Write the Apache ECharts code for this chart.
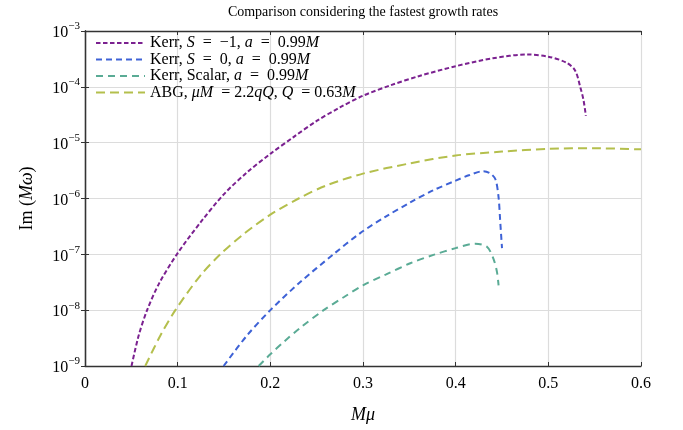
<!DOCTYPE html>
<html><head><meta charset="utf-8">
<script src="https://cdn.jsdelivr.net/npm/echarts@6/dist/echarts.min.js"></script>
<style>html,body{margin:0;padding:0;background:#fff}#c{width:683px;height:430px}</style>
</head><body><div id="c"></div>
<script>
// Kerr, S = -1, a = 0.99M
const kerrSm1X = [0.0502, 0.058, 0.067, 0.08, 0.1, 0.125, 0.15, 0.175, 0.2, 0.225, 0.25, 0.275, 0.3, 0.33, 0.36, 0.4, 0.44, 0.477, 0.5, 0.52, 0.529, 0.5344, 0.538, 0.5405];
const kerrSm1Y = [1.0e-9, 3.55e-9, 1.0e-8, 3.02e-8, 1.05e-7, 3.8e-7, 1.2e-6, 2.95e-6, 6.31e-6, 1.26e-5, 2.45e-5, 4.27e-5, 6.92e-5, 1.07e-4, 1.55e-4, 2.34e-4, 3.24e-4, 3.8e-4, 3.47e-4, 2.69e-4, 1.95e-4, 1.0e-4, 5.75e-5, 3.02e-5];
// Kerr, S = 0, a = 0.99M
const kerrS0X = [0.1496, 0.175, 0.2, 0.232, 0.268, 0.297, 0.325, 0.351, 0.375, 0.4, 0.415, 0.43, 0.4374, 0.443, 0.4463, 0.448, 0.45];
const kerrS0Y = [1.0e-9, 3.55e-9, 1.0e-8, 3.16e-8, 1.0e-7, 2.4e-7, 4.79e-7, 8.51e-7, 1.38e-6, 2.09e-6, 2.63e-6, 3.09e-6, 2.82e-6, 2.19e-6, 1.05e-6, 4.07e-7, 1.29e-7];
// Kerr, Scalar, a = 0.99M
const kerrScX = [0.1874, 0.2, 0.215, 0.232, 0.2575, 0.28, 0.3, 0.325, 0.351, 0.376, 0.4, 0.4212, 0.434, 0.441, 0.4446, 0.4463];
const kerrScY = [1.0e-9, 1.62e-9, 2.75e-9, 4.79e-9, 1.0e-8, 1.74e-8, 2.79e-8, 4.37e-8, 6.92e-8, 9.77e-8, 1.29e-7, 1.55e-7, 1.35e-7, 8.13e-8, 4.79e-8, 2.79e-8];
// ABG, muM = 2.2qQ, Q = 0.63M
const abgX = [0.065, 0.0815, 0.0975, 0.1245, 0.146, 0.171, 0.2, 0.2305, 0.26, 0.3, 0.351, 0.4, 0.45, 0.5, 0.55, 0.6];
const abgY = [1.0e-9, 3.55e-9, 1.0e-8, 4.17e-8, 1.0e-7, 2.29e-7, 5.13e-7, 1.0e-6, 1.7e-6, 2.79e-6, 4.27e-6, 5.89e-6, 6.92e-6, 7.76e-6, 7.94e-6, 7.59e-6];

const seriesNames = ['kerrSm1', 'kerrS0', 'kerrSc', 'abg'];
const legendLabels = {
  kerrSm1: '{r|Kerr, }{i|S}{r|  =  −1, }{i|a}{r|  =  0.99}{i|M}',
  kerrS0: '{r|Kerr, }{i|S}{r|  =  0, }{i|a}{r|  =  0.99}{i|M}',
  kerrSc: '{r|Kerr, Scalar, }{i|a}{r|  =  0.99}{i|M}',
  abg: '{r|ABG, }{i|μM}{r|  = 2.2}{i|qQ}{r|, }{i|Q}{r|  = 0.63}{i|M}'
};
const xTicks = [0, 0.1, 0.2, 0.3, 0.4, 0.5, 0.6];
const titleText = 'Comparison considering the fastest growth rates';

const F = 'Liberation Serif';
const colors = ['#7b2190', '#3e62d6', '#5aab95', '#b4bf4c'];
const dashes = [[4.5, 2.5], [6, 4], [7, 5], [9, 5]];
const xs = [kerrSm1X, kerrS0X, kerrScX, abgX];
const ys = [kerrSm1Y, kerrS0Y, kerrScY, abgY];

const supLabel = v => {
  const n = Math.round(Math.log10(v));
  return '{b|10}{s|' + (n < 0 ? '−' + (-n) : n) + '}';
};
const supRich = {
  b: { fontFamily: F, fontSize: 16, lineHeight: 20, color: '#000', verticalAlign: 'bottom' },
  s: { fontFamily: F, fontSize: 11, lineHeight: 11, color: '#000', verticalAlign: 'top' }
};

const axisCommon = {
  axisLine: { show: true, lineStyle: { color: '#333', width: 1.3 } },
  axisTick: { show: true, inside: true, length: 4, lineStyle: { color: '#333', width: 1 } }
};

const chart = echarts.init(document.getElementById('c'), null, { renderer: 'canvas' });
chart.setOption({
  animation: false,
  backgroundColor: '#fff',
  grid: { left: 85, right: 42, top: 22.5, bottom: 64, containLabel: false },
  legend: {
    data: seriesNames,
    orient: 'vertical',
    left: 90, top: 30,
    itemWidth: 49, itemHeight: 16, itemGap: 0.5,
    itemStyle: { opacity: 0 },
    formatter: n => legendLabels[n],
    textStyle: {
      fontFamily: F, fontSize: 16, color: '#000', lineHeight: 16,
      rich: {
        r: { fontFamily: F, fontSize: 16, color: '#000' },
        i: { fontFamily: F, fontSize: 16, fontStyle: 'italic', color: '#000' }
      }
    }
  },
  xAxis: [{
    type: 'value', min: 0, max: 0.6, interval: 0.1, position: 'bottom',
    ...axisCommon,
    axisLabel: { fontFamily: F, fontSize: 16, color: '#000', margin: 10,
      formatter: v => { const t = xTicks.find(q => Math.abs(q - v) < 1e-9); return t === 0 ? '0' : (t !== undefined ? t.toFixed(1) : ''); } },
    splitLine: { show: true, lineStyle: { color: '#dcdcdc', width: 1.2 } },
    name: 'Mμ', nameLocation: 'middle', nameGap: 40,
    nameTextStyle: { fontFamily: F, fontSize: 18, fontStyle: 'italic', color: '#000' }
  }, {
    type: 'value', min: 0, max: 0.6, interval: 0.1, position: 'top',
    ...axisCommon,
    axisLabel: { show: false }, splitLine: { show: false },
    name: titleText, nameLocation: 'middle', nameGap: 12,
    nameTextStyle: { fontFamily: F, fontSize: 14, color: '#000' }
  }],
  yAxis: [{
    type: 'log', logBase: 10, min: 1e-9, max: 1e-3, position: 'left',
    ...axisCommon,
    axisLabel: { formatter: supLabel, rich: supRich, margin: 5 },
    splitLine: { show: true, lineStyle: { color: '#dcdcdc', width: 1.2 } },
    minorTick: { show: false },
    name: '{r|Im (}{i|Mω}{r|)}', nameLocation: 'middle', nameGap: 49,
    nameTextStyle: {
      rich: {
        r: { fontFamily: F, fontSize: 18, color: '#000' },
        i: { fontFamily: F, fontSize: 18, fontStyle: 'italic', color: '#000' }
      }
    }
  }, {
    type: 'log', logBase: 10, min: 1e-9, max: 1e-3, position: 'right',
    ...axisCommon,
    axisLabel: { show: false }, splitLine: { show: false }
  }],
  series: seriesNames.map((nm, k) => ({
    name: nm, type: 'line', xAxisIndex: 0, yAxisIndex: 0,
    data: xs[k].map((x, i) => [x, ys[k][i]]),
    showSymbol: false, symbol: 'none', smooth: 0.3,
    lineStyle: { color: colors[k], width: 2, type: dashes[k] },
    itemStyle: { color: colors[k] },
    z: 3
  }))
});
</script></body></html>
